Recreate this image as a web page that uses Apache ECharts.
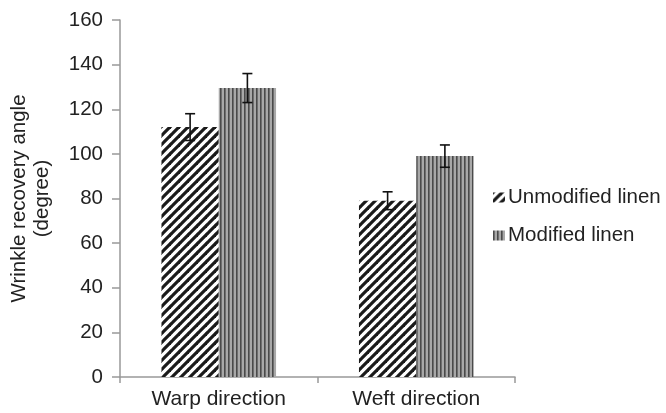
<!DOCTYPE html>
<html><head><meta charset="utf-8">
<script src="https://cdn.jsdelivr.net/npm/echarts@6/dist/echarts.min.js"></script>
<style>html,body{margin:0;padding:0;background:#fff}#c{width:666px;height:413px}</style>
</head><body><div id="c"></div>
<script>
const categories = ['Warp direction', 'Weft direction'];
const seriesNames = ['Unmodified linen', 'Modified linen'];
const unmodified = [112, 79];
const unmodifiedErr = [6, 4];
const modified = [129.5, 99];
const modifiedErr = [6.5, 5];
const yTicks = [0, 20, 40, 60, 80, 100, 120, 140, 160];

function hatchPattern() {
  const c = document.createElement('canvas');
  c.width = 9; c.height = 9;
  const g = c.getContext('2d');
  g.fillStyle = '#fff'; g.fillRect(0, 0, 9, 9);
  g.strokeStyle = '#1a1a1a'; g.lineWidth = 3.2;
  for (let k = -1; k <= 1; k++) {
    g.beginPath();
    g.moveTo(k * 9 - 1, 10);
    g.lineTo(k * 9 + 10, -1);
    g.stroke();
  }
  return c;
}
function stripePattern() {
  const c = document.createElement('canvas');
  c.width = 4; c.height = 4;
  const g = c.getContext('2d');
  g.fillStyle = '#a8a8a8'; g.fillRect(0, 0, 4, 4);
  g.fillStyle = '#4a4a4a'; g.fillRect(0, 0, 1.6, 4);
  return c;
}
const hatch = { image: hatchPattern(), repeat: 'repeat' };
const stripes = { image: stripePattern(), repeat: 'repeat' };

const chart = echarts.init(document.getElementById('c'));
const font = 'Liberation Sans, Arial, sans-serif';

function errSeries(vals, errs, idx) {
  return {
    type: 'custom',
    silent: true,
    z: 10,
    data: vals.map((v, i) => [i, v - errs[i], v + errs[i]]),
    renderItem: function (params, api) {
      const ci = api.value(0);
      const lo = api.coord([ci, api.value(1)]);
      const hi = api.coord([ci, api.value(2)]);
      const band = api.size([1, 0])[0];
      const barW = band * 0.58 / 2;
      const x = lo[0] + (idx === 0 ? -barW / 2 : barW / 2);
      const w = 5;
      const st = { stroke: '#111', lineWidth: 1.6 };
      return {
        type: 'group',
        children: [
          { type: 'line', shape: { x1: x, y1: lo[1], x2: x, y2: hi[1] }, style: st },
          { type: 'line', shape: { x1: x - w, y1: lo[1], x2: x + w, y2: lo[1] }, style: st },
          { type: 'line', shape: { x1: x - w, y1: hi[1], x2: x + w, y2: hi[1] }, style: st }
        ]
      };
    }
  };
}

chart.setOption({
  animation: false,
  backgroundColor: '#fff',
  grid: { left: 120, right: 151, top: 20, bottom: 36, containLabel: false, outerBoundsMode: 'none' },
  legend: {
    orient: 'vertical',
    left: 488,
    top: 182,
    itemWidth: 12,
    itemHeight: 10,
    itemGap: 17,
    icon: 'rect',
    data: seriesNames,
    textStyle: { fontFamily: font, fontSize: 20.5, color: '#222', padding: [0, 0, 0, -2] }
  },
  xAxis: {
    type: 'category',
    data: categories,
    axisLine: { lineStyle: { color: '#999', width: 1.5 } },
    axisTick: { show: true, length: 6, lineStyle: { color: '#999', width: 1.5 } },
    axisLabel: { fontFamily: font, fontSize: 21, color: '#222', margin: 12 }
  },
  yAxis: {
    type: 'value',
    min: 0, max: 160, interval: 20,
    name: 'Wrinkle recovery angle\n(degree)',
    nameLocation: 'middle',
    nameRotate: 90,
    nameGap: 66,
    nameTextStyle: { fontFamily: font, fontSize: 20.5, color: '#222', lineHeight: 23 },
    axisLine: { show: true, lineStyle: { color: '#999', width: 1.5 } },
    axisTick: { show: true, length: 8, lineStyle: { color: '#999', width: 1.5 } },
    splitLine: { show: false },
    axisLabel: { fontFamily: font, fontSize: 20.5, color: '#222', margin: 17,
      formatter: v => yTicks.includes(v) ? String(v) : '' }
  },
  series: [
    { name: seriesNames[0], type: 'bar', data: unmodified, barGap: '0%', barCategoryGap: '42%',
      itemStyle: { color: hatch } },
    { name: seriesNames[1], type: 'bar', data: modified, barGap: '0%', barCategoryGap: '42%',
      itemStyle: { color: stripes } },
    errSeries(unmodified, unmodifiedErr, 0),
    errSeries(modified, modifiedErr, 1)
  ]
});
</script></body></html>
